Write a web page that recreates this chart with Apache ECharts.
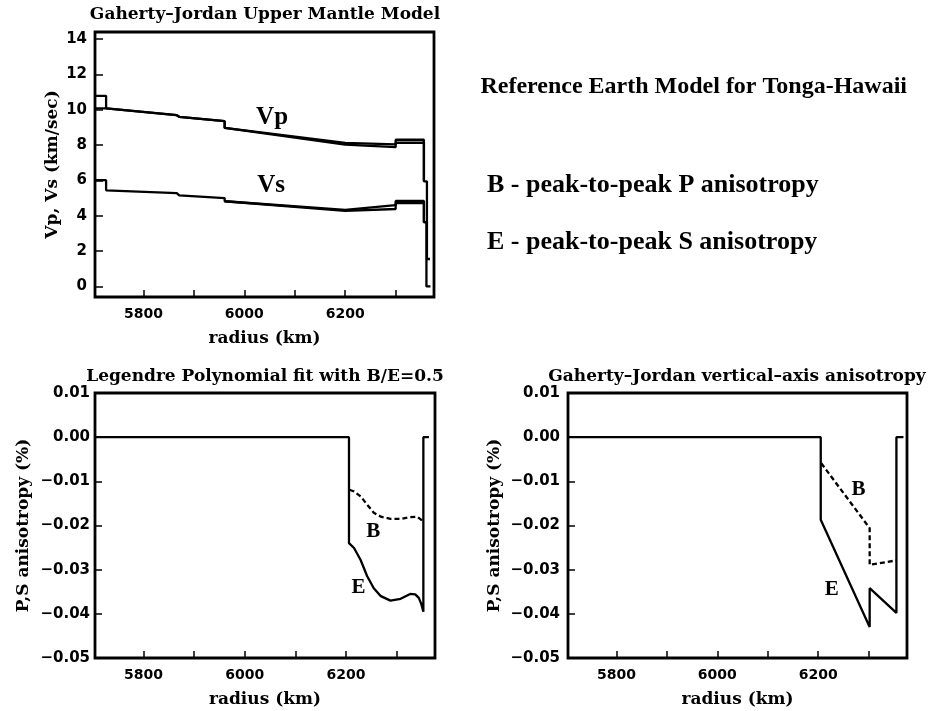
<!DOCTYPE html>
<html>
<head>
<meta charset="utf-8">
<script src="https://cdn.jsdelivr.net/npm/echarts@6/dist/echarts.min.js"></script>
<style>html,body{margin:0;padding:0;background:#fff;}#chart{width:928px;height:711px;}</style>
</head>
<body>
<div id="chart"></div>
<script>
// ---- data (radius km, value) ----
const radiusTicks = [5800, 5900, 6000, 6100, 6200, 6300];
const radiusLabels = [5800, 6000, 6200];
const velTicks = [0, 2, 4, 6, 8, 10, 12, 14];
const anisoTicks = [0.01, 0, -0.01, -0.02, -0.03, -0.04, -0.05];

const vpH = [[5704,10.79],[5726,10.79],[5726,10.08],[5866,9.69],[5871,9.6],[5961,9.35],[5961,8.97],[6200,8.12],[6300,8.04],[6300,8.3],[6356,8.3],[6356,5.95],[6362,5.95],[6362,1.55],[6368,1.55]];
const vpV = [[5704,10.08],[5726,10.08],[5866,9.69],[5871,9.6],[5961,9.35],[5961,8.97],[6200,8.02],[6300,7.88],[6300,8.13],[6356,8.13],[6356,5.95]];
const vsH = [[5704,6.01],[5726,6.01],[5726,5.44],[5866,5.28],[5871,5.15],[5961,5.0],[5961,4.82],[6200,4.33],[6300,4.6],[6300,4.84],[6356,4.84],[6356,3.63],[6361,3.63],[6361,0],[6369,0]];
const vsV = [[5961,4.82],[6200,4.28],[6300,4.38],[6300,4.71],[6356,4.71],[6356,3.63]];

const legE = [[5704,0],[6206,0],[6206,-0.024],[6216,-0.0251],[6229,-0.0278],[6242,-0.0315],[6255,-0.0342],[6269,-0.036],[6288,-0.037],[6308,-0.0366],[6327,-0.0355],[6337,-0.0356],[6344,-0.0364],[6349,-0.0378],[6353,-0.0395],[6353,0],[6364,0]];
const legB = [[6207,-0.0119],[6216,-0.0123],[6229,-0.0134],[6242,-0.0153],[6255,-0.0171],[6269,-0.018],[6288,-0.0185],[6308,-0.0185],[6327,-0.0181],[6341,-0.018],[6353,-0.0191]];

const gjE = [[5704,0],[6205,0],[6205,-0.0187],[6302,-0.043],[6302,-0.0342],[6355,-0.0398],[6355,0],[6369,0]];
const gjB = [[6206,-0.0059],[6302,-0.0206],[6302,-0.0289],[6355,-0.0279]];

const topLabels = [{name:'Vp', value:[6055, 9.58]}, {name:'Vs', value:[6053, 5.73]}];
const leftLabels = [{name:'B', value:[6254, -0.0214]}, {name:'E', value:[6225, -0.034]}];
const rightLabels = [{name:'B', value:[6280, -0.0119]}, {name:'E', value:[6227, -0.0346]}];

// ---- styling ----
const tickFontX = {fontFamily:'DejaVu Sans', fontWeight:'bold', fontSize:14, color:'#000'};
const tickFontY = {fontFamily:'DejaVu Sans', fontWeight:'bold', fontSize:15, color:'#000'};
const nameFont = {fontFamily:'DejaVu Serif', fontWeight:'bold', fontSize:17, color:'#000'};
const minus = v => (v < 0 ? '\u2212' : '');

function xAxis(gi){
  return {
    type:'value', gridIndex:gi, min:5704, max:6376,
    name:'radius (km)', nameLocation:'middle', nameGap:33, nameTextStyle:nameFont,
    axisLine:{show:false, onZero:false},
    axisTick:{show:true, inside:true, length:7, customValues:radiusTicks, lineStyle:{color:'#000', width:1.5}},
    axisLabel:Object.assign({show:true, margin:10, customValues:radiusLabels, formatter: v => String(v)}, tickFontX),
    splitLine:{show:false}
  };
}
function yAxisAniso(gi, gap, margin){
  return {
    type:'value', gridIndex:gi, min:-0.05, max:0.01,
    name:'P,S anisotropy (%)', nameLocation:'middle', nameGap:gap, nameTextStyle:nameFont,
    axisLine:{show:false, onZero:false},
    axisTick:{show:true, inside:true, length:7, customValues:anisoTicks, lineStyle:{color:'#000', width:1.5}},
    axisLabel:Object.assign({show:true, margin:margin, customValues:anisoTicks,
      formatter: v => minus(v) + Math.abs(v).toFixed(2)}, tickFontY),
    splitLine:{show:false}
  };
}
const gridBase = {show:true, borderColor:'#000', borderWidth:2.8, backgroundColor:'transparent', containLabel:false};
function line(data, xi, yi, dashed){
  return {type:'line', xAxisIndex:xi, yAxisIndex:yi, data:data, showSymbol:false, symbol:'none', silent:true,
    lineStyle:{color:'#000', width:2.3, type: dashed ? [5,3] : 'solid'}, animation:false, z:3};
}
function labels(data, xi, yi, size){
  return {type:'scatter', xAxisIndex:xi, yAxisIndex:yi, data:data, symbolSize:0, silent:true, animation:false,
    itemStyle:{opacity:1, color:'#000'},
    label:{show:true, position:'inside', formatter: p => p.name, fontFamily:'Liberation Serif', fontWeight:'bold',
      fontSize:size, color:'#000', opacity:1, textBorderWidth:0, textShadowBlur:0}};
}

const option = {
  backgroundColor:'#fff',
  animation:false,
  grid:[
    Object.assign({left:95, top:32, width:339, height:265}, gridBase),
    Object.assign({left:95, top:393, width:340, height:265}, gridBase),
    Object.assign({left:568, top:393, width:339, height:265}, gridBase)
  ],
  xAxis:[xAxis(0), xAxis(1), xAxis(2)],
  yAxis:[
    {
      type:'value', gridIndex:0, min:-0.6, max:14.4,
      name:'Vp, Vs (km/sec)', nameLocation:'middle', nameGap:34, nameTextStyle:nameFont,
      axisLine:{show:false, onZero:false},
      axisTick:{show:true, inside:true, length:8, customValues:velTicks, lineStyle:{color:'#000', width:1.5}},
      axisLabel:Object.assign({show:true, margin:8, customValues:velTicks, formatter: v => String(v)}, tickFontY),
      splitLine:{show:false}
    },
    yAxisAniso(1, 63, 5),
    yAxisAniso(2, 65, 8)
  ],
  series:[
    line(vpH,0,0,false), line(vpV,0,0,false), line(vsH,0,0,false), line(vsV,0,0,false),
    labels(topLabels,0,0,25),
    line(legE,1,1,false), line(legB,1,1,true), labels(leftLabels,1,1,21),
    line(gjE,2,2,false), line(gjB,2,2,true), labels(rightLabels,2,2,21)
  ],
  graphic:[
    {type:'text', x:265, y:15, style:{text:'Gaherty\u2013Jordan Upper Mantle Model', align:'center', verticalAlign:'middle', font:'bold 17px "DejaVu Serif"', fill:'#000'}},
    {type:'text', x:265, y:377, style:{text:'Legendre Polynomial fit with B/E=0.5', align:'center', verticalAlign:'middle', font:'bold 17px "DejaVu Serif"', fill:'#000'}},
    {type:'text', x:737, y:377, style:{text:'Gaherty\u2013Jordan vertical\u2013axis anisotropy', align:'center', verticalAlign:'middle', font:'bold 17px "DejaVu Serif"', fill:'#000'}},
    {type:'text', x:907, y:87, style:{text:'Reference Earth Model for Tonga-Hawaii', align:'right', verticalAlign:'middle', font:'bold 24px "Liberation Serif"', fill:'#000'}},
    {type:'text', x:487, y:185, style:{text:'B - peak-to-peak P anisotropy', align:'left', verticalAlign:'middle', font:'bold 26px "Liberation Serif"', fill:'#000'}},
    {type:'text', x:487, y:242, style:{text:'E - peak-to-peak S anisotropy', align:'left', verticalAlign:'middle', font:'bold 26px "Liberation Serif"', fill:'#000'}}
  ]
};
const chart = echarts.init(document.getElementById('chart'), null, {renderer:'canvas'});
chart.setOption(option);
</script>
</body>
</html>
